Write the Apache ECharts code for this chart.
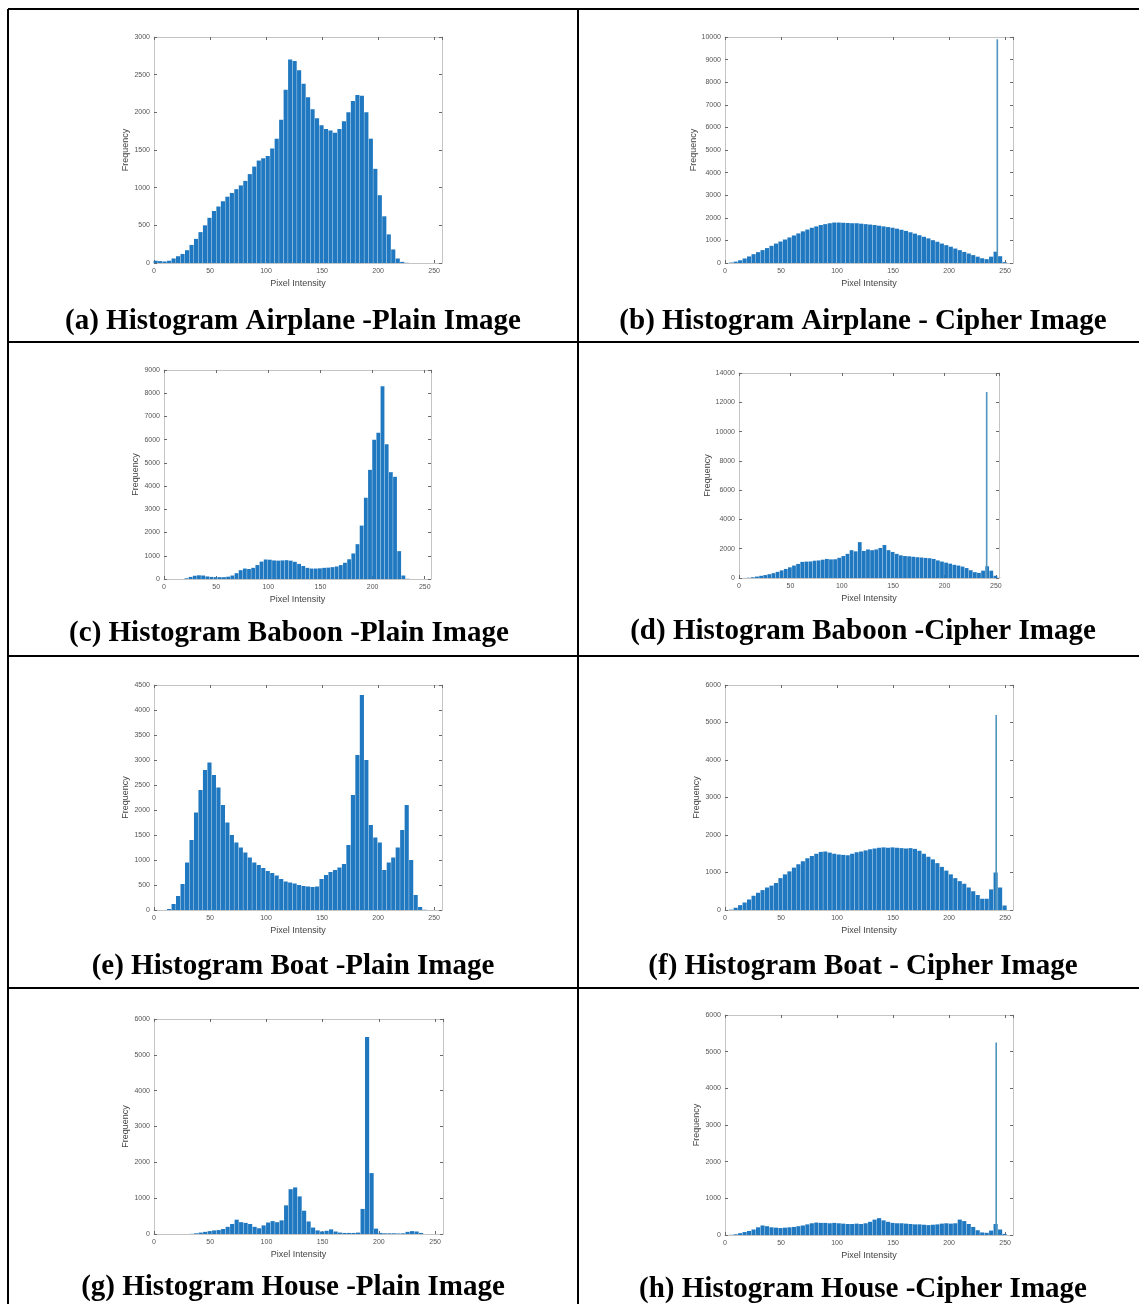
<!DOCTYPE html>
<html>
<head>
<meta charset="utf-8">
<script src="https://cdn.jsdelivr.net/npm/echarts@6/dist/echarts.min.js"></script>
<style>
html, body { margin: 0; padding: 0; background: #fff; }
#main { width: 1139px; height: 1304px; }
</style>
</head>
<body>
<div id="main"></div>
<script>
// histogram bins, 4 intensity levels per bar (start of each bin)
var binStart = [0, 4, 8, 12, 16, 20, 24, 28, 32, 36, 40, 44, 48, 52, 56, 60, 64, 68, 72, 76,
	80, 84, 88, 92, 96, 100, 104, 108, 112, 116, 120, 124, 128, 132, 136, 140, 144, 148, 152, 156,
	160, 164, 168, 172, 176, 180, 184, 188, 192, 196, 200, 204, 208, 212, 216, 220, 224, 228, 232, 236,
	240, 244, 248, 252];

var airplanePlain = [30, 25, 20, 30, 60, 90, 120, 170, 240, 320,
	410, 500, 600, 690, 750, 820, 880, 930, 980, 1030,
	1090, 1180, 1280, 1360, 1390, 1420, 1520, 1650, 1900, 2300,
	2700, 2680, 2560, 2380, 2200, 2040, 1920, 1830, 1780, 1760,
	1730, 1780, 1880, 2000, 2150, 2230, 2220, 2000, 1650, 1250,
	900, 620, 380, 180, 60, 15, 3, 0, 0, 0,
	0, 0, 0, 0];
var airplaneCipher = [0, 20, 60, 120, 200, 290, 390, 480, 570, 660,
	760, 860, 950, 1040, 1130, 1220, 1310, 1400, 1480, 1560,
	1620, 1680, 1720, 1760, 1790, 1790, 1780, 1770, 1760, 1760,
	1740, 1720, 1700, 1680, 1650, 1620, 1590, 1560, 1520, 1470,
	1420, 1360, 1300, 1230, 1160, 1090, 1010, 940, 860, 790,
	720, 640, 570, 490, 420, 350, 280, 210, 170, 280,
	500, 300, 40, 0];
var baboonPlain = [0, 0, 0, 0, 0, 30, 90, 140, 160, 150,
	110, 90, 80, 80, 80, 100, 150, 250, 380, 450,
	430, 480, 600, 750, 840, 830, 800, 790, 800, 810,
	790, 740, 650, 560, 480, 450, 450, 460, 480, 490,
	510, 540, 600, 700, 850, 1100, 1500, 2300, 3500, 4700,
	6000, 6300, 8300, 5800, 4600, 4400, 1200, 150, 10, 0,
	0, 0, 0, 0];
var baboonCipher = [0, 5, 20, 50, 100, 150, 200, 260, 330, 420,
	520, 620, 730, 850, 960, 1100, 1120, 1130, 1180, 1200,
	1250, 1300, 1270, 1280, 1380, 1500, 1650, 1900, 1820, 2450,
	1850, 1950, 1900, 1950, 2050, 2250, 1900, 1780, 1650, 1550,
	1500, 1480, 1450, 1420, 1400, 1370, 1350, 1300, 1200, 1120,
	1050, 980, 900, 850, 780, 680, 530, 400, 350, 500,
	800, 500, 150, 10];
var boatPlain = [0, 0, 0, 20, 120, 280, 520, 950, 1400, 1950,
	2400, 2800, 2950, 2700, 2450, 2100, 1750, 1500, 1350, 1250,
	1150, 1050, 950, 900, 840, 780, 740, 690, 620, 570,
	550, 530, 500, 480, 470, 460, 470, 620, 700, 760,
	800, 850, 920, 1300, 2300, 3100, 4300, 3000, 1700, 1450,
	1350, 800, 950, 1050, 1250, 1600, 2100, 1000, 300, 60,
	5, 0, 0, 0];
var boatCipher = [0, 10, 60, 130, 200, 280, 380, 460, 530, 600,
	650, 720, 850, 950, 1030, 1130, 1220, 1300, 1380, 1440,
	1500, 1550, 1560, 1530, 1500, 1480, 1470, 1460, 1500, 1540,
	1560, 1590, 1620, 1640, 1660, 1670, 1660, 1670, 1660, 1650,
	1640, 1650, 1630, 1580, 1500, 1420, 1350, 1250, 1150, 1050,
	950, 850, 770, 700, 600, 500, 400, 300, 300, 550,
	1000, 600, 120, 0];
var housePlain = [0, 0, 0, 0, 0, 0, 0, 0, 5, 20,
	40, 60, 80, 100, 110, 140, 200, 280, 400, 330,
	310, 280, 200, 160, 240, 320, 360, 330, 380, 800,
	1250, 1300, 1050, 650, 350, 180, 100, 70, 90, 130,
	70, 40, 30, 30, 30, 40, 700, 5500, 1700, 150,
	30, 20, 20, 20, 15, 20, 60, 80, 70, 30,
	0, 0, 0, 0];
var houseCipher = [0, 5, 20, 50, 80, 110, 150, 210, 260, 240,
	210, 200, 190, 200, 210, 220, 240, 260, 290, 320,
	340, 330, 330, 320, 330, 320, 310, 300, 300, 310,
	300, 320, 360, 420, 460, 400, 360, 330, 320, 320,
	310, 300, 290, 290, 280, 270, 280, 290, 310, 320,
	310, 320, 420, 380, 300, 220, 130, 70, 60, 120,
	300, 150, 30, 0];

// single-level spikes of the cipher images: [intensity, count]
var airplaneCipherSpike = [243, 9900];
var baboonCipherSpike = [241, 12700];
var boatCipherSpike = [242, 5200];
var houseCipherSpike = [242, 5250];

var captions = [
	"(a) Histogram Airplane -Plain Image",
	"(b) Histogram Airplane - Cipher Image",
	"(c) Histogram Baboon -Plain Image",
	"(d) Histogram Baboon -Cipher Image",
	"(e) Histogram Boat -Plain Image",
	"(f) Histogram Boat - Cipher Image",
	"(g) Histogram House -Plain Image",
	"(h) Histogram House -Cipher Image"
];

var panels = [
	{ values: airplanePlain, spike: null, yMax: 3000, yStep: 500, xMax: 257, box: [154, 37, 288, 226], cap: [293, 322] },
	{ values: airplaneCipher, spike: airplaneCipherSpike, yMax: 10000, yStep: 1000, xMax: 257, box: [725, 37, 288, 226], cap: [863, 322] },
	{ values: baboonPlain, spike: null, yMax: 9000, yStep: 1000, xMax: 256, box: [164, 370, 267, 209], cap: [289, 634] },
	{ values: baboonCipher, spike: baboonCipherSpike, yMax: 14000, yStep: 2000, xMax: 253, box: [739, 373, 260, 205], cap: [863, 632] },
	{ values: boatPlain, spike: null, yMax: 4500, yStep: 500, xMax: 257, box: [154, 685, 288, 225], cap: [293, 967] },
	{ values: boatCipher, spike: boatCipherSpike, yMax: 6000, yStep: 1000, xMax: 257, box: [725, 685, 288, 225], cap: [863, 967] },
	{ values: housePlain, spike: null, yMax: 6000, yStep: 1000, xMax: 257, box: [154, 1019, 289, 215], cap: [293, 1288] },
	{ values: houseCipher, spike: houseCipherSpike, yMax: 6000, yStep: 1000, xMax: 257, box: [725, 1015, 288, 220], cap: [863, 1290] }
];

var barColor = "#2079c0";
var boxColor = "#c4c4c4";
var tickColor = "#6a6a6a";
var labelFont = "Liberation Sans";

// one MATLAB-like axis: light box line, short inward ticks
function makeAxis(i, position, max, step, withLabels) {
	var axis = {
		type: "value", gridIndex: i, position: position,
		min: 0, max: max, interval: step,
		splitLine: { show: false },
		axisLine: { show: true, onZero: false, lineStyle: { color: boxColor, width: 1 } },
		axisTick: { show: true, inside: true, length: 3, lineStyle: { color: tickColor } },
		axisLabel: { show: false }
	};
	if (withLabels) {
		axis.axisLabel = { show: true, fontSize: 7, color: "#555", fontFamily: labelFont,
			margin: position === "bottom" ? 5 : 4, showMaxLabel: position !== "bottom",
			formatter: function (v) { return String(v); } };
		axis.nameLocation = "middle";
		axis.nameTextStyle = { fontSize: 9, color: "#444", fontFamily: labelFont };
		if (position === "bottom") {
			axis.name = "Pixel Intensity";
			axis.nameGap = 16;
		} else {
			axis.name = "Frequency";
			axis.nameGap = 24;
			axis.nameRotate = 90;
		}
	}
	return axis;
}

var grid = [], xAxis = [], yAxis = [], series = [], graphic = [];

panels.forEach(function (p, i) {
	grid.push({ left: p.box[0], top: p.box[1], width: p.box[2], height: p.box[3], containLabel: false });

	xAxis.push(makeAxis(i, "bottom", p.xMax, 50, true));
	xAxis.push(makeAxis(i, "top", p.xMax, 50, false));
	yAxis.push(makeAxis(i, "left", p.yMax, p.yStep, true));
	yAxis.push(makeAxis(i, "right", p.yMax, p.yStep, false));

	var pxPerUnit = p.box[2] / p.xMax;
	series.push({
		type: "bar",
		xAxisIndex: 2 * i, yAxisIndex: 2 * i,
		barWidth: 4 * pxPerUnit - 0.35,
		itemStyle: { color: barColor },
		silent: true,
		data: binStart.map(function (s, k) { return [s + 1.5, p.values[k]]; })
	});
	if (p.spike) {
		series.push({
			type: "bar",
			xAxisIndex: 2 * i + 1, yAxisIndex: 2 * i,
			barWidth: 1.6,
			itemStyle: { color: "#4f95bd" },
			silent: true,
			data: [p.spike]
		});
	}

	graphic.push({
		type: "text", x: p.cap[0], y: p.cap[1], silent: true,
		style: {
			text: captions[i], align: "center", verticalAlign: "middle",
			font: 'bold 29px "Liberation Serif", "Times New Roman", serif', fill: "#000"
		}
	});
});

// table rules
var rules = [
	[8, 9, 1139, 9], [8, 342, 1139, 342], [8, 656, 1139, 656], [8, 988, 1139, 988],
	[8, 9, 8, 1304], [578, 9, 578, 1304]
];
rules.forEach(function (r) {
	graphic.push({
		type: "line", silent: true,
		shape: { x1: r[0], y1: r[1], x2: r[2], y2: r[3] },
		style: { stroke: "#000", lineWidth: 2 }
	});
});

var chart = echarts.init(document.getElementById("main"), null, { renderer: "canvas" });
chart.setOption({
	animation: false,
	backgroundColor: "#fff",
	grid: grid,
	xAxis: xAxis,
	yAxis: yAxis,
	series: series,
	graphic: graphic
});
</script>
</body>
</html>
